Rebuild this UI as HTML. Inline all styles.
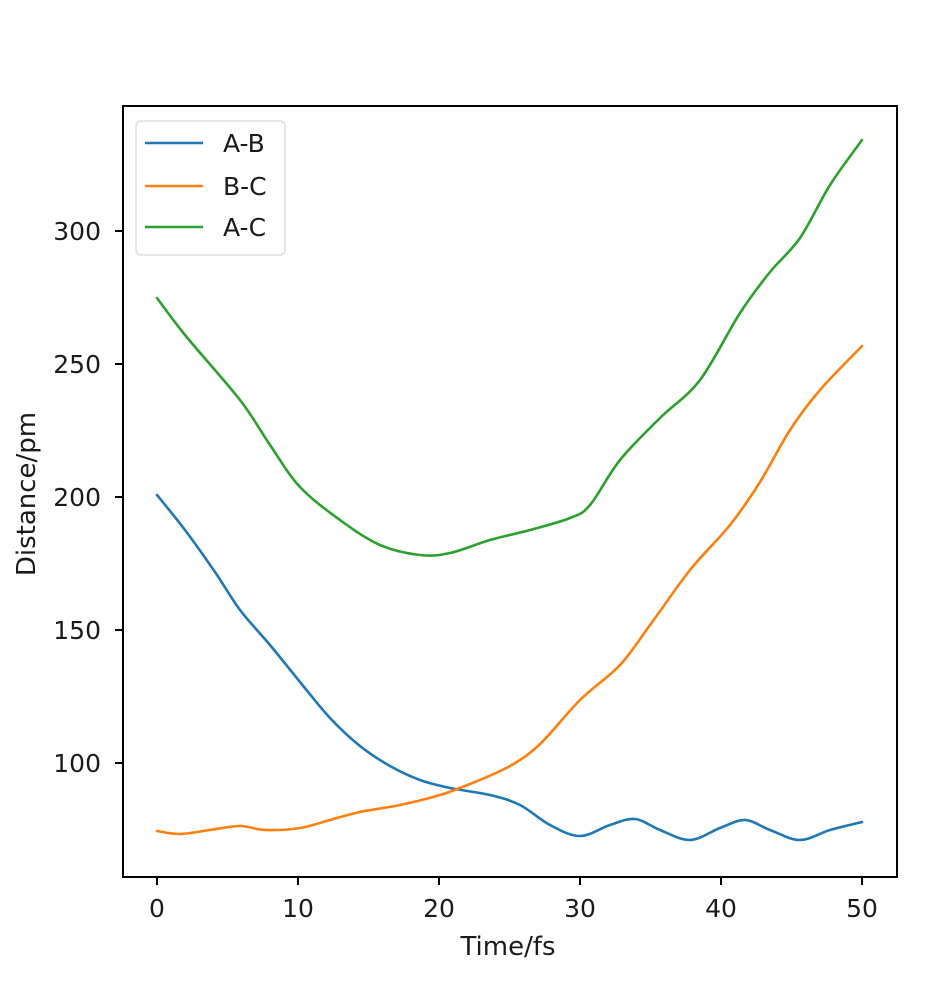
<!DOCTYPE html>
<html><head><meta charset="utf-8"><style>
html,body{margin:0;padding:0;background:#fff}
svg text{font-family:"DejaVu Sans","Liberation Sans",sans-serif;font-size:25px;fill:#1a1a1a}
</style></head><body>
<svg id="s" width="950" height="976" xmlns="http://www.w3.org/2000/svg">
<rect width="950" height="976" fill="#fff"/>
<g fill="none" stroke-width="2.6" stroke-linejoin="round" stroke-linecap="round">
<path id="ab" stroke="#1f77b4" data-p="157,495 185,530 215,572 240,610 270,645 300,682 330,718 360,746 390,766 420,780 450,788 490,795 520,805 550,825 580,836 610,825 635,819 660,830 690,840 720,828 745,820 770,830 800,840 830,830 862,822"/>
<path id="bc" stroke="#ff7f0e" data-p="157,831 180,834 210,830 240,826 265,830 300,828 330,820 360,812 400,805 440,795 470,784 510,766 540,744 580,700 620,665 650,625 690,570 730,525 760,482 790,430 820,390 862,346"/>
<path id="ac" stroke="#2ca02c" data-p="157,298 185,335 240,400 270,445 300,487 340,520 380,545 420,555 450,553 490,540 530,530 570,518 590,505 620,460 660,418 700,380 740,313 770,272 800,238 830,185 862,140"/>
</g>
<rect x="123" y="106" width="774" height="771" fill="none" stroke="#000" stroke-width="2"/>
<g stroke="#000" stroke-width="2">
<line x1="157" y1="877" x2="157" y2="885"/><line x1="298" y1="877" x2="298" y2="885"/><line x1="439" y1="877" x2="439" y2="885"/><line x1="580" y1="877" x2="580" y2="885"/><line x1="721" y1="877" x2="721" y2="885"/><line x1="862" y1="877" x2="862" y2="885"/>
<line x1="115" y1="231" x2="123" y2="231"/><line x1="115" y1="364" x2="123" y2="364"/><line x1="115" y1="497" x2="123" y2="497"/><line x1="115" y1="630" x2="123" y2="630"/><line x1="115" y1="763" x2="123" y2="763"/>
</g>
<g text-anchor="middle">
<text x="157" y="917">0</text><text x="298" y="917">10</text><text x="439" y="917">20</text><text x="580" y="917">30</text><text x="721" y="917">40</text><text x="862" y="917">50</text>
<text x="508" y="955" style="font-size:26px">Time/fs</text>
</g>
<g text-anchor="end">
<text x="101" y="240">300</text><text x="101" y="373">250</text><text x="101" y="506">200</text><text x="101" y="639">150</text><text x="101" y="772">100</text>
</g>
<text transform="translate(35,494) rotate(-90)" text-anchor="middle" style="font-size:26px">Distance/pm</text>
<rect x="136" y="121" width="149" height="134" rx="5" fill="#fff" stroke="#ddd" stroke-width="1.5"/>
<g stroke-width="2.6">
<line x1="145" y1="143" x2="203" y2="143" stroke="#1f77b4"/>
<line x1="145" y1="186" x2="203" y2="186" stroke="#ff7f0e"/>
<line x1="145" y1="227" x2="203" y2="227" stroke="#2ca02c"/>
</g>
<text x="223" y="152">A-B</text><text x="223" y="195">B-C</text><text x="223" y="236">A-C</text>
</svg>
<script>
['ab','bc','ac'].forEach(function(id){
var el=document.getElementById(id);
var p=el.getAttribute('data-p').trim().split(/\s+/).map(function(s){return s.split(',').map(Number);});
var d='M'+p[0][0]+','+p[0][1];
for(var i=0;i<p.length-1;i++){
var p0=p[i-1]||p[i],p1=p[i],p2=p[i+1],p3=p[i+2]||p2;
var c1=[p1[0]+(p2[0]-p0[0])/6,p1[1]+(p2[1]-p0[1])/6];
var c2=[p2[0]-(p3[0]-p1[0])/6,p2[1]-(p3[1]-p1[1])/6];
d+=' C'+c1[0].toFixed(1)+','+c1[1].toFixed(1)+' '+c2[0].toFixed(1)+','+c2[1].toFixed(1)+' '+p2[0]+','+p2[1];
}
el.setAttribute('d',d);
});
</script>
</body></html>
